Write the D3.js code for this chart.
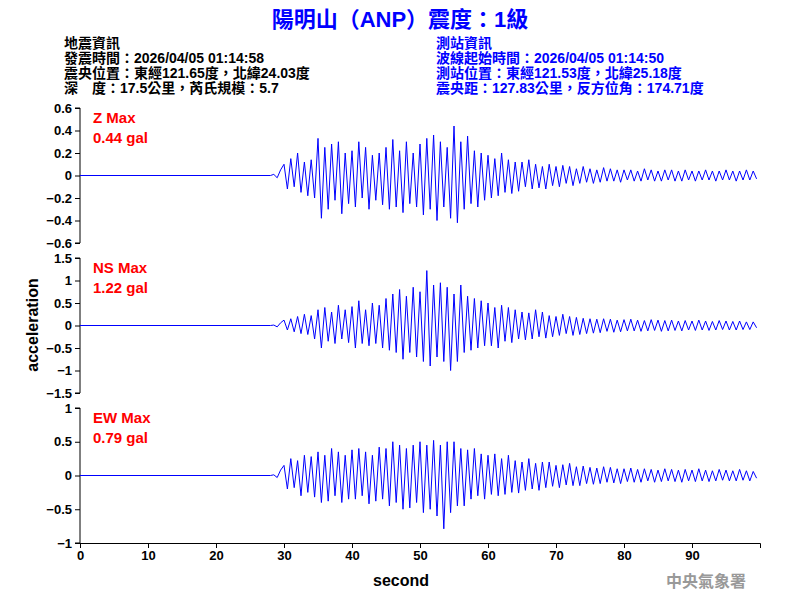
<!DOCTYPE html>
<html><head><meta charset="utf-8">
<script src="https://cdn.jsdelivr.net/npm/d3@7"></script>
<style>body{margin:0;background:#fff}</style>
</head><body>
<svg id="c" width="800" height="600"></svg>
<script>
// amplitude samples every 0.5 s, starting at t = 28 s (before that the trace is flat)
const startT = 28, stepT = 0.5;
const zVals = [0,0.01,-0.02,0.05,
 0.1,-0.12,0.15,-0.1,0.2,-0.15,0.12,-0.18,0.14,-0.2,
 0.33,-0.38,0.25,-0.3,0.28,-0.22,0.3,-0.34,0.2,-0.25,
 0.22,-0.28,0.3,-0.2,0.25,-0.3,0.18,-0.22,0.2,-0.26,
 0.25,-0.3,0.32,-0.28,0.22,-0.33,0.3,-0.25,0.2,-0.28,
 0.28,-0.35,0.33,-0.3,0.36,-0.4,0.3,-0.28,0.25,-0.38,
 0.44,-0.42,0.3,-0.3,0.35,-0.25,0.22,-0.28,0.2,-0.22,
 0.18,-0.2,0.15,-0.18,0.2,-0.15,0.14,-0.16,0.12,-0.14,
 0.12,-0.1,0.14,-0.12,0.1,-0.11,0.08,-0.12,0.1,-0.09,
 0.08,-0.1,0.09,-0.07,0.08,-0.09,0.06,-0.07,0.08,-0.06,
 0.06,-0.07,0.05,-0.06,0.07,-0.05,0.06,-0.05,0.05,-0.06,
 0.05,-0.04,0.05,-0.05,0.04,-0.05,0.06,-0.04,0.05,-0.05,0.04,-0.05,0.05,-0.04,0.05,-0.05,0.04,-0.05,0.05,-0.04,
 0.04,-0.05,0.04,-0.04,0.05,-0.04,0.04,-0.05,0.04,-0.04,0.05,-0.04,0.04,-0.05,0.04,-0.04,0.05,-0.04,0.04,-0.03];
const nsVals = [0,0.01,-0.03,0.06,
 0.12,-0.1,0.15,-0.14,0.2,-0.18,0.25,-0.2,0.22,-0.3,
 0.35,-0.5,0.4,-0.35,0.3,-0.4,0.45,-0.3,0.35,-0.38,
 0.42,-0.5,0.55,-0.4,0.35,-0.45,0.5,-0.4,0.45,-0.5,
 0.6,-0.55,0.7,-0.6,0.8,-0.75,0.65,-0.6,0.85,-0.7,
 0.75,-0.8,1.22,-0.9,0.9,-0.7,0.95,-0.8,0.85,-1.0,
 0.7,-0.8,0.9,-0.6,0.65,-0.55,0.6,-0.5,0.55,-0.45,
 0.5,-0.45,0.4,-0.5,0.45,-0.35,0.4,-0.38,0.35,-0.3,
 0.3,-0.32,0.28,-0.3,0.35,-0.25,0.3,-0.28,0.22,-0.25,
 0.2,-0.22,0.25,-0.18,0.2,-0.22,0.18,-0.2,0.16,-0.18,
 0.15,-0.17,0.14,-0.16,0.15,-0.13,0.14,-0.15,0.12,-0.14,
 0.13,-0.12,0.14,-0.12,0.12,-0.13,0.11,-0.12,0.13,-0.11,0.12,-0.13,0.11,-0.12,0.12,-0.11,0.1,-0.12,0.11,-0.1,
 0.1,-0.11,0.12,-0.1,0.1,-0.11,0.09,-0.1,0.11,-0.09,0.1,-0.1,0.09,-0.1,0.1,-0.09,0.08,-0.09,0.08,-0.05];
const ewVals = [0,0.01,-0.03,0.08,
 0.15,-0.2,0.25,-0.18,0.22,-0.3,0.3,-0.25,0.28,-0.32,
 0.35,-0.4,0.3,-0.38,0.4,-0.3,0.35,-0.4,0.3,-0.35,
 0.38,-0.35,0.4,-0.3,0.35,-0.42,0.3,-0.38,0.42,-0.35,
 0.4,-0.45,0.5,-0.4,0.45,-0.5,0.4,-0.48,0.45,-0.4,
 0.5,-0.55,0.45,-0.5,0.52,-0.6,0.45,-0.79,0.5,-0.55,
 0.5,-0.45,0.4,-0.45,0.38,-0.35,0.4,-0.3,0.32,-0.35,
 0.3,-0.28,0.32,-0.3,0.25,-0.28,0.3,-0.25,0.22,-0.26,
 0.2,-0.22,0.25,-0.2,0.18,-0.22,0.2,-0.18,0.2,-0.16,
 0.15,-0.18,0.16,-0.14,0.18,-0.15,0.13,-0.15,0.14,-0.12,
 0.12,-0.13,0.11,-0.12,0.13,-0.1,0.12,-0.11,0.1,-0.12,
 0.1,-0.09,0.11,-0.1,0.09,-0.1,0.1,-0.08,0.09,-0.1,0.08,-0.09,0.1,-0.08,0.09,-0.09,0.08,-0.1,0.09,-0.08,
 0.08,-0.09,0.1,-0.08,0.08,-0.09,0.07,-0.08,0.09,-0.07,0.08,-0.08,0.07,-0.08,0.09,-0.07,0.07,-0.08,0.06,-0.04];

const panels = [
  {vals: zVals, name: 'Z Max', max: '0.44 gal', domain: [-0.6, 0.6], ticks: [-0.6,-0.4,-0.2,0,0.2,0.4,0.6], top: 108},
  {vals: nsVals, name: 'NS Max', max: '1.22 gal', domain: [-1.5, 1.5], ticks: [-1.5,-1,-0.5,0,0.5,1,1.5], top: 258},
  {vals: ewVals, name: 'EW Max', max: '0.79 gal', domain: [-1, 1], ticks: [-1,-0.5,0,0.5,1], top: 408}
];
const xTicks = [0,10,20,30,40,50,60,70,80,90];
const leftInfo = ['地震資訊','發震時間：2026/04/05 01:14:58','震央位置：東經121.65度，北緯24.03度','深　度：17.5公里，芮氏規模：5.7'];
const rightInfo = ['測站資訊','波線起始時間：2026/04/05 01:14:50','測站位置：東經121.53度，北緯25.18度','震央距：127.83公里，反方位角：174.71度'];

const svg = d3.select('#c');
const font = 'Arial, "Liberation Sans", "Noto Sans CJK TC", sans-serif';
const panelH = 135;
const x = d3.scaleLinear().domain([0, 100]).range([80, 760]);

svg.append('text').attr('x', 400).attr('y', 27).attr('text-anchor', 'middle')
  .attr('font-family', font).attr('font-size', 22).attr('font-weight', 'bold')
  .attr('fill', '#0000ff').text('陽明山（ANP）震度：1級');

leftInfo.forEach((t, i) => svg.append('text').attr('x', 64).attr('y', 48 + i * 15)
  .attr('font-family', font).attr('font-size', 14).attr('font-weight', 'bold').text(t));
rightInfo.forEach((t, i) => svg.append('text').attr('x', 436).attr('y', 48 + i * 15)
  .attr('font-family', font).attr('font-size', 14).attr('font-weight', 'bold')
  .attr('fill', '#0000ff').text(t));

panels.forEach((p, k) => {
  const y = d3.scaleLinear().domain(p.domain).range([p.top + panelH, p.top]);
  const ax = svg.append('g').attr('transform', 'translate(80,0)')
    .call(d3.axisLeft(y).tickValues(p.ticks).tickSize(5).tickFormat(d3.format('')));
  ax.selectAll('text').attr('font-family', font).attr('font-size', 13).attr('font-weight', 'bold');
  ax.select('.domain').attr('d', `M-5,${p.top}H0V${p.top + panelH}H-5`);

  const pts = [[0, 0]].concat(p.vals.map((v, i) => [startT + i * stepT, v]));
  svg.append('path').datum(pts)
    .attr('d', d3.line().x(d => x(d[0])).y(d => y(d[1])))
    .attr('fill', 'none').attr('stroke', '#0000ff').attr('stroke-width', 1);

  svg.append('text').attr('x', 93).attr('y', p.top + 15).attr('fill', '#ff0000')
    .attr('font-family', font).attr('font-size', 15).attr('font-weight', 'bold').text(p.name);
  svg.append('text').attr('x', 93).attr('y', p.top + 35).attr('fill', '#ff0000')
    .attr('font-family', font).attr('font-size', 15).attr('font-weight', 'bold').text(p.max);
});

const xa = svg.append('g').attr('transform', `translate(0,${408 + panelH})`)
  .call(d3.axisBottom(x).tickValues(xTicks).tickSize(5));
xa.selectAll('text').attr('font-family', font).attr('font-size', 13).attr('font-weight', 'bold');

svg.append('text').attr('x', 401).attr('y', 586).attr('text-anchor', 'middle')
  .attr('font-family', font).attr('font-size', 16).attr('font-weight', 'bold').text('second');
svg.append('text').attr('transform', 'translate(38,325) rotate(-90)').attr('text-anchor', 'middle')
  .attr('font-family', font).attr('font-size', 16).attr('font-weight', 'bold').text('acceleration');
svg.append('text').attr('x', 746).attr('y', 587).attr('text-anchor', 'end')
  .attr('font-family', '"Noto Sans CJK TC", sans-serif').attr('font-size', 16).attr('font-weight', 'bold')
  .attr('fill', '#999').text('中央氣象署');
</script>
</body></html>
